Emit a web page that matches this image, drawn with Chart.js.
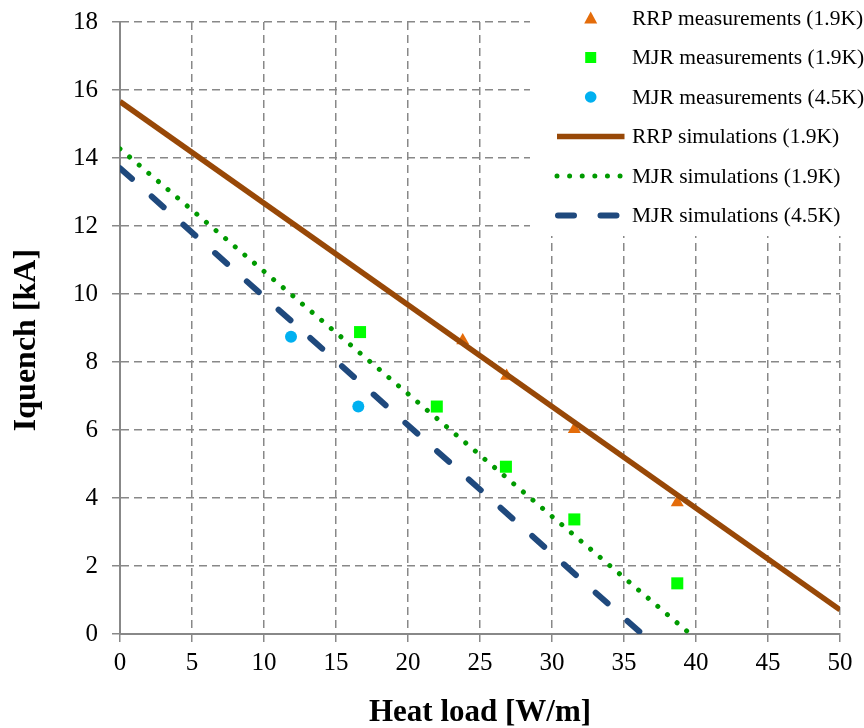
<!DOCTYPE html>
<html>
<head>
<meta charset="utf-8">
<script src="https://cdn.jsdelivr.net/npm/chart.js@4/dist/chart.umd.min.js"></script>
<style>
  html, body { margin: 0; padding: 0; background: #ffffff; }
  #wrap { width: 864px; height: 728px; }
</style>
</head>
<body>
<div id="wrap"><canvas id="c" width="864" height="728"></canvas></div>
<script>
// Quench current vs. heat load: measurements and simulations
const rrpMeasHeat = [23.8, 26.85, 31.55, 38.7];
const rrpMeasIq   = [8.63, 7.59, 6.02, 3.87];

const mjr19MeasHeat = [16.67, 22.0, 26.8, 31.55, 38.7];
const mjr19MeasIq   = [8.88, 6.69, 4.92, 3.37, 1.49];

const mjr45MeasHeat = [11.875, 16.55];
const mjr45MeasIq   = [8.74, 6.69];

const rrpSimHeat = [0, 50];
const rrpSimIq   = [15.66, 0.71];

const mjr19SimHeat = [0, 39.6];
const mjr19SimIq   = [14.27, 0];

const mjr45SimHeat = [0, 36.25];
const mjr45SimIq   = [13.7, 0];

const seriesLabels = [
  'RRP measurements (1.9K)',
  'MJR measurements (1.9K)',
  'MJR measurements (4.5K)',
  'RRP simulations (1.9K)',
  'MJR simulations (1.9K)',
  'MJR simulations (4.5K)'
];

const xTitle = 'Heat load [W/m]';
const yTitle = 'Iquench [kA]   ';

const SERIF = "'Liberation Serif', 'Times New Roman', serif";
const GRID = '#888888';

const toXY = (xs, ys) => xs.map((x, i) => ({ x: x, y: ys[i] }));

const datasets = [
  {
    label: seriesLabels[0], type: 'scatter', data: toXY(rrpMeasHeat, rrpMeasIq),
    pointStyle: 'triangle', pointRadius: 7.5, backgroundColor: '#E46C0A', borderColor: '#E46C0A',
    borderWidth: 0, order: 2
  },
  {
    label: seriesLabels[1], type: 'scatter', data: toXY(mjr19MeasHeat, mjr19MeasIq),
    pointStyle: 'rect', pointRadius: 8.5, backgroundColor: '#00FF00', borderColor: '#00FF00',
    borderWidth: 0, order: 2
  },
  {
    label: seriesLabels[2], type: 'scatter', data: toXY(mjr45MeasHeat, mjr45MeasIq),
    pointStyle: 'circle', pointRadius: 6, backgroundColor: '#00B0F0', borderColor: '#00B0F0',
    borderWidth: 0, order: 2
  },
  {
    label: seriesLabels[3], type: 'line', data: toXY(rrpSimHeat, rrpSimIq),
    borderColor: '#984807', borderWidth: 5.5, pointRadius: 0, fill: false,
    borderCapStyle: 'butt', order: 1
  },
  {
    label: seriesLabels[4], type: 'line', data: toXY(mjr19SimHeat, mjr19SimIq),
    borderColor: '#009A00', borderWidth: 5, pointRadius: 0, fill: false,
    borderCapStyle: 'round', borderDash: [0.01, 12.6], order: 1
  },
  {
    label: seriesLabels[5], type: 'line', data: toXY(mjr45SimHeat, mjr45SimIq),
    borderColor: '#1F497D', borderWidth: 6, pointRadius: 0, fill: false,
    borderCapStyle: 'round', borderDash: [16, 26.5], order: 1
  }
];

// Legend box in the upper right corner of the plot
const legendBox = {
  id: 'legendBox',
  afterDatasetsDraw(chart) {
    const ctx = chart.ctx;
    const ds = chart.data.datasets;
    ctx.save();
    ctx.fillStyle = '#ffffff';
    ctx.fillRect(530, 0, 334, 236);
    const rows = [18, 57.5, 97, 136.5, 176, 215.5];
    const cx = 590.7;
    ds.forEach((d, i) => {
      const y = rows[i];
      if (d.type === 'scatter') {
        ctx.fillStyle = d.backgroundColor;
        ctx.beginPath();
        if (d.pointStyle === 'triangle') {
          const r = 6.5;
          ctx.moveTo(cx, y - r);
          ctx.lineTo(cx + r, y + r * 0.85);
          ctx.lineTo(cx - r, y + r * 0.85);
          ctx.closePath();
        } else if (d.pointStyle === 'rect') {
          ctx.rect(cx - 5.5, y - 5.5, 11, 11);
        } else {
          ctx.arc(cx, y, 5.8, 0, Math.PI * 2);
        }
        ctx.fill();
      } else {
        ctx.strokeStyle = d.borderColor;
        ctx.lineWidth = d.borderWidth;
        ctx.lineCap = d.borderCapStyle;
        ctx.setLineDash(d.borderDash || []);
        ctx.beginPath();
        if (i === 3) { ctx.moveTo(557, y); ctx.lineTo(624.5, y); }
        else if (i === 4) { ctx.moveTo(557, y); ctx.lineTo(622, y); }
        else { ctx.moveTo(558, y); ctx.lineTo(621, y); }
        ctx.stroke();
        ctx.setLineDash([]);
      }
      ctx.fillStyle = '#000000';
      ctx.font = "21.5px " + SERIF;
      ctx.textAlign = 'left';
      ctx.textBaseline = 'middle';
      ctx.fillText(d.label, 632, y + 1);
    });
    ctx.restore();
  }
};

new Chart(document.getElementById('c'), {
  type: 'scatter',
  data: { datasets: datasets },
  options: {
    responsive: false,
    animation: false,
    devicePixelRatio: 1,
    layout: { padding: { left: 0, top: 22, right: 24, bottom: 0 } },
    plugins: {
      legend: { display: false },
      tooltip: { enabled: false },
      title: { display: false }
    },
    scales: {
      x: {
        type: 'linear', min: 0, max: 50,
        afterFit(s) { s.height = 94; s.paddingLeft = 0; s.paddingRight = 0; },
        ticks: {
          stepSize: 5, color: '#000000', padding: 6,
          font: { family: SERIF, size: 25 }
        },
        grid: {
          color: GRID, lineWidth: 1.5, drawTicks: true, tickLength: 8,
          tickColor: GRID, tickWidth: 1.5, tickBorderDash: []
        },
        border: { display: true, color: GRID, width: 2, dash: [8, 5] },
        title: {
          display: true, text: xTitle, color: '#000000',
          font: { family: SERIF, size: 31, weight: 'bold', lineHeight: 1 },
          padding: { top: 0, bottom: 0 }
        }
      },
      y: {
        type: 'linear', min: 0, max: 18,
        afterFit(s) { s.width = 120; s.paddingTop = 0; s.paddingBottom = 0; },
        ticks: {
          stepSize: 2, color: '#000000', padding: 14,
          font: { family: SERIF, size: 25 }
        },
        grid: {
          color: GRID, lineWidth: 1.5, drawTicks: true, tickLength: 8,
          tickColor: GRID, tickWidth: 1.5, tickBorderDash: []
        },
        border: { display: true, color: GRID, width: 2, dash: [8, 5] },
        title: {
          display: true, text: yTitle, color: '#000000',
          font: { family: SERIF, size: 32, weight: 'bold', lineHeight: 1.2 },
          padding: { top: 8, bottom: 0 }
        }
      }
    }
  },
  plugins: [legendBox]
});
</script>
</body>
</html>
